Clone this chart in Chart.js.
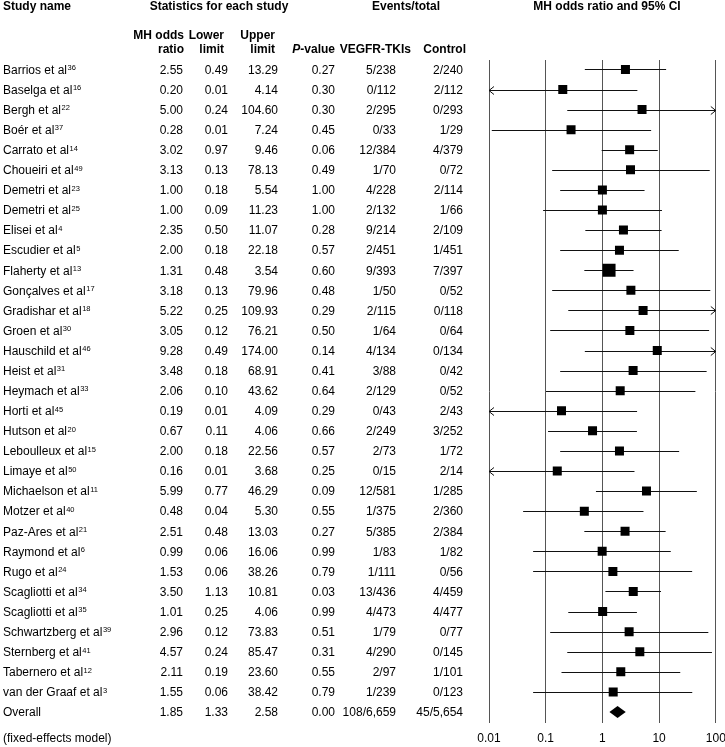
<!DOCTYPE html>
<html>
<head>
<meta charset="utf-8">
<script src="https://cdn.jsdelivr.net/npm/chart.js@4.4.1/dist/chart.umd.min.js"></script>
<style>
  html, body { margin: 0; padding: 0; background: #fff; }
</style>
</head>
<body>
<canvas id="forest" width="725" height="747"></canvas>
<script>
// study rows
const studies = ["Barrios et al", "Baselga et al", "Bergh et al", "Boér et al", "Carrato et al",
  "Choueiri et al", "Demetri et al", "Demetri et al", "Elisei et al", "Escudier et al",
  "Flaherty et al", "Gonçalves et al", "Gradishar et al", "Groen et al", "Hauschild et al",
  "Heist et al", "Heymach et al", "Horti et al", "Hutson et al", "Leboulleux et al",
  "Limaye et al", "Michaelson et al", "Motzer et al", "Paz-Ares et al", "Raymond et al",
  "Rugo et al", "Scagliotti et al", "Scagliotti et al", "Schwartzberg et al", "Sternberg et al",
  "Tabernero et al", "van der Graaf et al"];
const refs = ["36", "16", "22", "37", "14", "49", "23", "25", "4", "5", "13", "17", "18", "30", "46",
  "31", "33", "45", "20", "15", "50", "11", "40", "21", "6", "24", "34", "35", "39", "41", "12", "3"];
const oddsRatio = [2.55, 0.20, 5.00, 0.28, 3.02, 3.13, 1.00, 1.00, 2.35, 2.00, 1.31, 3.18, 5.22, 3.05,
  9.28, 3.48, 2.06, 0.19, 0.67, 2.00, 0.16, 5.99, 0.48, 2.51, 0.99, 1.53, 3.50, 1.01, 2.96, 4.57, 2.11, 1.55];
// lower limits below 0.01 are shown as 0.01 in the table but run off the left edge of the plot
const lowerLimit = [0.49, 0.0097, 0.24, 0.0112, 0.97, 0.13, 0.18, 0.09, 0.50, 0.18, 0.48, 0.13, 0.25, 0.12,
  0.49, 0.18, 0.10, 0.0093, 0.11, 0.18, 0.0071, 0.77, 0.04, 0.48, 0.06, 0.06, 1.13, 0.25, 0.12, 0.24, 0.19, 0.06];
const upperLimit = [13.29, 4.14, 104.60, 7.24, 9.46, 78.13, 5.54, 11.23, 11.07, 22.18, 3.54, 79.96, 109.93, 76.21,
  174.00, 68.91, 43.62, 4.09, 4.06, 22.56, 3.68, 46.29, 5.30, 13.03, 16.06, 38.26, 10.81, 4.06, 73.83, 85.47, 23.60, 38.42];
const pValue = [0.27, 0.30, 0.30, 0.45, 0.06, 0.49, 1.00, 1.00, 0.28, 0.57, 0.60, 0.48, 0.29, 0.50,
  0.14, 0.41, 0.64, 0.29, 0.66, 0.57, 0.25, 0.09, 0.55, 0.27, 0.99, 0.79, 0.03, 0.99, 0.51, 0.31, 0.55, 0.79];
const eventsTki = ["5/238", "0/112", "2/295", "0/33", "12/384", "1/70", "4/228", "2/132", "9/214", "2/451",
  "9/393", "1/50", "2/115", "1/64", "4/134", "3/88", "2/129", "0/43", "2/249", "2/73", "0/15", "12/581",
  "1/375", "5/385", "1/83", "1/111", "13/436", "4/473", "1/79", "4/290", "2/97", "1/239"];
const eventsControl = ["2/240", "2/112", "0/293", "1/29", "4/379", "0/72", "2/114", "1/66", "2/109", "1/451",
  "7/397", "0/52", "0/118", "0/64", "0/134", "0/42", "0/52", "2/43", "3/252", "1/72", "2/14", "1/285",
  "2/360", "2/384", "1/82", "0/56", "4/459", "4/477", "0/77", "0/145", "1/101", "0/123"];

const overallStats = [1.85, 1.33, 2.58, 0.00];   // OR, lower, upper, P
const overallEvents = ["108/6,659", "45/5,654"];
const xTicks = [0.01, 0.1, 1, 10, 100];

const FONT = '"Liberation Sans", Arial, Helvetica, sans-serif';
const nRows = studies.length + 1;

// box size grows with the MH weight (b*c/N), with a minimum size
const toNums = s => s.replace(/,/g, '').split('/').map(Number);
const weights = studies.map((s, i) => {
  const [a, n1] = toNums(eventsTki[i]);
  const [c, n2] = toNums(eventsControl[i]);
  return (n1 - a) * c / (n1 + n2);
});
const maxW = Math.max(...weights);
const boxSide = i => Math.max(9, 13 * weights[i] / maxW);

function drawRowText(ctx, y, name, ref, cells) {
  const base = y + 4.3;
  ctx.font = '12px ' + FONT;
  ctx.textAlign = 'left';
  ctx.fillText(name, 3, base);
  if (ref) {
    const w = ctx.measureText(name).width;
    ctx.font = '7.5px ' + FONT;
    ctx.fillText(ref, 3 + w + 0.5, base - 3.5);
    ctx.font = '12px ' + FONT;
  }
  const cols = [183, 228, 278, 335, 396, 463];
  ctx.textAlign = 'right';
  cells.forEach((t, k) => ctx.fillText(t, cols[k], base));
}

const forestPlugin = {
  id: 'forest',
  beforeDatasetsDraw(chart) {
    const { ctx, chartArea: a, scales: { x, y } } = chart;
    ctx.save();
    ctx.strokeStyle = '#111';
    ctx.lineWidth = 1;
    for (let i = 0; i < studies.length; i++) {
      const py = Math.round(y.getPixelForValue(i)) + 0.5;
      const lo = lowerLimit[i], hi = upperLimit[i];
      const x1 = lo < x.min ? a.left : x.getPixelForValue(lo);
      const x2 = hi > x.max ? a.right : x.getPixelForValue(hi);
      ctx.beginPath();
      ctx.moveTo(x1, py);
      ctx.lineTo(x2, py);
      if (lo < x.min) {
        ctx.moveTo(x1 + 5, py - 4); ctx.lineTo(x1, py); ctx.lineTo(x1 + 5, py + 4);
      }
      if (hi > x.max) {
        ctx.moveTo(x2 - 5, py - 4); ctx.lineTo(x2, py); ctx.lineTo(x2 - 5, py + 4);
      }
      ctx.stroke();
    }
    // overall diamond spans the pooled CI
    const oy = y.getPixelForValue(studies.length);
    const cx = x.getPixelForValue(overallStats[0]);
    ctx.fillStyle = '#000';
    ctx.beginPath();
    ctx.moveTo(x.getPixelForValue(overallStats[1]), oy);
    ctx.lineTo(cx, oy - 6);
    ctx.lineTo(x.getPixelForValue(overallStats[2]), oy);
    ctx.lineTo(cx, oy + 6);
    ctx.closePath();
    ctx.fill();
    ctx.restore();
  },
  afterDraw(chart) {
    const { ctx, scales: { y } } = chart;
    ctx.save();
    ctx.fillStyle = '#000';
    ctx.textBaseline = 'alphabetic';

    // headers
    ctx.font = 'bold 12px ' + FONT;
    ctx.textAlign = 'left';
    ctx.fillText('Study name', 3, 10);
    ctx.textAlign = 'center';
    ctx.fillText('Statistics for each study', 219, 10);
    ctx.fillText('Events/total', 406, 10);
    ctx.fillText('MH odds ratio and 95% CI', 607, 10);
    ctx.textAlign = 'right';
    ctx.fillText('MH odds', 184, 39);
    ctx.fillText('ratio', 184, 53);
    ctx.fillText('Lower', 224, 39);
    ctx.fillText('limit', 224, 53);
    ctx.fillText('Upper', 275, 39);
    ctx.fillText('limit', 275, 53);
    ctx.fillText('-value', 335, 53);
    const vw = ctx.measureText('-value').width;
    ctx.font = 'italic bold 12px ' + FONT;
    ctx.fillText('P', 335 - vw, 53);
    ctx.font = 'bold 12px ' + FONT;
    ctx.fillText('VEGFR-TKIs', 411, 53);
    ctx.fillText('Control', 466, 53);

    // rows
    studies.forEach((s, i) => {
      drawRowText(ctx, y.getPixelForValue(i), s, refs[i], [
        oddsRatio[i].toFixed(2), lowerLimit[i].toFixed(2), upperLimit[i].toFixed(2),
        pValue[i].toFixed(2), eventsTki[i], eventsControl[i]]);
    });
    drawRowText(ctx, y.getPixelForValue(studies.length), 'Overall', '',
      overallStats.map(v => v.toFixed(2)).concat(overallEvents));

    ctx.font = '12px ' + FONT;
    ctx.textAlign = 'left';
    ctx.fillText('(fixed-effects model)', 3, 742);
    ctx.restore();
  }
};

new Chart(document.getElementById('forest'), {
  type: 'scatter',
  data: {
    datasets: [{
      data: oddsRatio.map((v, i) => ({ x: v, y: i })),
      pointStyle: 'rect',
      backgroundColor: '#000',
      borderWidth: 0,
      pointRadius: c => boxSide(c.dataIndex) / Math.SQRT2,
      pointHoverRadius: c => boxSide(c.dataIndex) / Math.SQRT2
    }]
  },
  options: {
    responsive: false,
    animation: false,
    events: [],
    devicePixelRatio: 1,
    layout: { padding: { left: 489, right: 9, top: 60, bottom: 0 } },
    scales: {
      x: {
        type: 'logarithmic',
        min: 0.01,
        max: 100,
        afterBuildTicks: s => { s.ticks = xTicks.map(v => ({ value: v })); },
        afterFit: s => {
          // keep the plot edges fixed; labels may hang over the padding
          s.paddingLeft = 0;
          s.paddingRight = 0;
          s.height = 24;
        },
        ticks: {
          callback: v => String(v),
          color: '#000',
          font: { family: FONT, size: 12 },
          padding: 8,
          maxRotation: 0,
          autoSkip: false
        },
        grid: { color: '#555', lineWidth: 1, drawTicks: false },
        border: { display: false }
      },
      y: {
        type: 'linear',
        display: false,
        reverse: true,
        min: -0.47,
        max: nRows - 1 + 0.55
      }
    },
    plugins: { legend: { display: false }, tooltip: { enabled: false } }
  },
  plugins: [forestPlugin]
});
</script>
</body>
</html>
